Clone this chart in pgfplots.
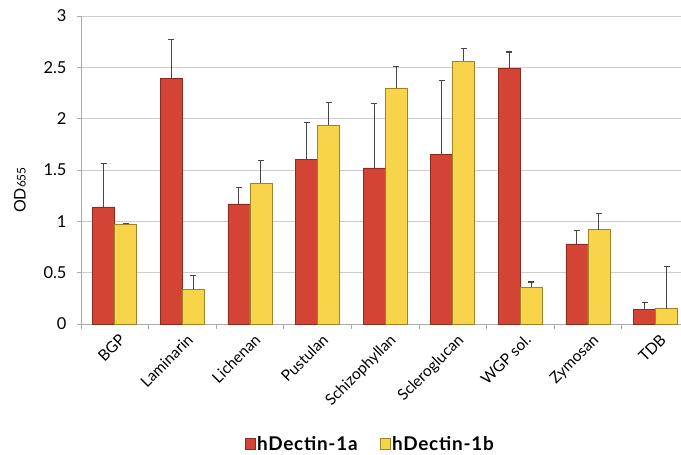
\documentclass[border=0pt]{standalone}
\usepackage{pgfplots}
\usepackage{pgfplotstable}
\pgfplotsset{compat=1.18}
\usepackage{fontspec}
\setmainfont{Lato}

\definecolor{barred}{RGB}{212,68,52}
\definecolor{rededge}{RGB}{140,42,32}
\definecolor{baryellow}{RGB}{247,212,74}
\definecolor{yedge}{RGB}{160,130,40}
\definecolor{gridgray}{RGB}{205,205,205}
\definecolor{axisgray}{RGB}{170,170,170}
\definecolor{errgray}{RGB}{70,70,70}

% OD655 readings, mean and upper error
\pgfplotstableread{
x val err
0 1.14 0.42
1 2.39 0.38
2 1.17 0.16
3 1.60 0.36
4 1.52 0.63
5 1.65 0.72
6 2.49 0.16
7 0.78 0.13
8 0.14 0.07
}\dectinA

\pgfplotstableread{
x val err
0 0.97 0.01
1 0.34 0.13
2 1.37 0.22
3 1.94 0.22
4 2.30 0.21
5 2.56 0.12
6 0.36 0.05
7 0.92 0.16
8 0.15 0.41
}\dectinB

\begin{document}
\begin{tikzpicture}
\begin{axis}[
  at={(0,0)}, anchor=south west,
  scale only axis, width=600bp, height=308bp,
  ybar=0pt, bar width=22bp,
  every axis plot post/.append style={
    legend image code/.code={\draw[##1, line width=0.5pt] (0bp,-5.5bp) rectangle (10bp,5.5bp);}},
  xmin=-0.5, xmax=8.376, ymin=0, ymax=3,
  axis x line*=bottom, axis y line*=left,
  axis line style={axisgray, line width=0.8pt},
  ytick={0,0.5,1,1.5,2,2.5,3},
  xtick={0,...,8},
  xticklabels={BGP,Laminarin,Lichenan,Pustulan,Schizophyllan,Scleroglucan,WGP sol.,Zymosan,TDB},
  minor xtick={-0.5,0.5,...,7.5},
  tick align=outside,
  major tick length=4bp, minor tick length=5bp,
  major x tick style={draw=none},
  minor x tick style={axisgray, line width=0.8pt},
  major y tick style={axisgray, line width=0.8pt},
  ymajorgrids, grid style={gridgray, line width=0.8pt},
  /pgf/number format/assume math mode=true,
  yticklabel style={font=\fontsize{16.5}{18}\selectfont, xshift=-7bp},
  xticklabel style={font=\fontsize{15.5}{17}\selectfont, rotate=45, anchor=north east, yshift=-5bp, inner sep=1bp},
  ylabel={OD{\fontsize{12}{12}\selectfont 655}},
  ylabel style={font=\fontsize{16}{18}\selectfont, at={(axis description cs:-0.102,0.435)}, anchor=center, rotate=0},
  legend style={draw=none, fill=none, at={(axis description cs:0.482,-0.39)}, anchor=center,
    legend columns=2, font=\fontsize{19}{22}\bfseries\addfontfeatures{LetterSpace=4}\selectfont,
    /tikz/every even column/.append style={column sep=20bp},
    legend cell align=left, inner sep=0pt},
  error bars/y dir=plus, error bars/y explicit,
  error bars/error bar style={errgray, line width=1pt},
  error bars/error mark options={errgray, line width=1.2pt, mark size=3bp, rotate=90},
]
\addplot[fill=barred, draw=rededge, line width=0.6pt]
  table[x=x, y=val, y error=err]{\dectinA};
\addlegendentry{hDectin-1a}
\addplot[fill=baryellow, draw=yedge, line width=0.6pt]
  table[x=x, y=val, y error=err]{\dectinB};
\addlegendentry{hDectin-1b}
\end{axis}
\pgfresetboundingbox
\useasboundingbox (-81bp,-131bp) rectangle (600bp,324bp);
\end{tikzpicture}
\end{document}
